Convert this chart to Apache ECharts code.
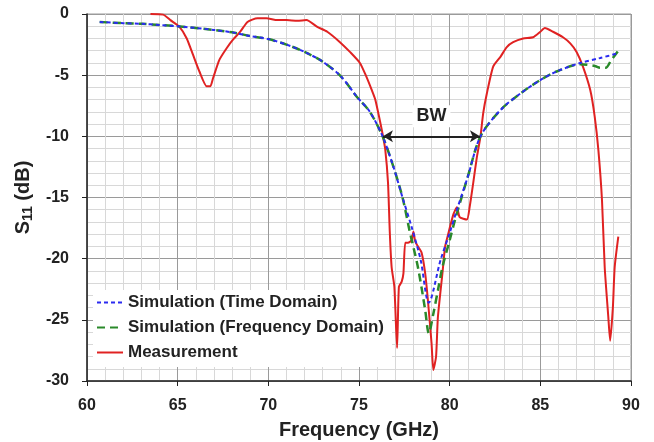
<!DOCTYPE html>
<html>
<head>
<meta charset="utf-8">
<script src="https://cdn.jsdelivr.net/npm/echarts@6/dist/echarts.min.js"></script>
<style>
  html, body { margin: 0; padding: 0; background: #fff; }
  #main { width: 654px; height: 442px; }
</style>
</head>
<body>
<div id="main"></div>
<script>
// simulation, time domain
var tdFreq = [60.7, 62, 63, 64, 65, 67, 68, 69, 70, 71, 72, 73, 74, 74.9, 75.6, 76.3, 76.9, 77.4, 77.9, 78.4, 78.85, 79.5, 80.0, 80.4, 81.0, 81.7, 82.8, 83.9, 85.0, 85.9, 87.2, 88.3, 89.3];
var tdS11 = [-0.65, -0.75, -0.8, -0.9, -1.0, -1.3, -1.5, -1.8, -2.05, -2.5, -3.1, -3.9, -5.1, -6.8, -8.0, -10.0, -12.5, -15.0, -17.4, -20.1, -23.6, -20.1, -17.9, -16.0, -13.3, -10.0, -7.85, -6.5, -5.4, -4.7, -4.0, -3.6, -3.2];

// simulation, frequency domain
var fdFreq = [60.7, 62, 63, 64, 65, 67, 68, 69, 70, 71, 72, 73, 74, 74.9, 75.6, 76.3, 76.9, 77.4, 77.8, 78.25, 78.65, 78.85, 79.1, 79.35, 79.6, 80.0, 80.3, 81.0, 81.7, 82.8, 83.9, 85.0, 85.9, 87.2, 88.0, 88.3, 88.6, 88.9, 89.3];
var fdS11 = [-0.65, -0.75, -0.8, -0.9, -1.0, -1.3, -1.5, -1.8, -2.05, -2.5, -3.1, -3.9, -5.1, -6.8, -8.0, -10.0, -12.5, -15.0, -17.8, -20.7, -24.2, -26.1, -24.5, -22.6, -20.7, -18.5, -16.8, -13.3, -10.0, -7.85, -6.5, -5.4, -4.7, -4.1, -4.25, -4.4, -4.4, -3.8, -3.0];

// measurement
var measFreq = [63.5, 64.2, 64.6, 65.1, 65.5, 65.85, 66.2, 66.6, 66.8, 66.95, 67.3, 67.7, 68.05, 68.45, 68.85, 69.4, 69.9, 70.5, 71.0, 71.6, 72.1, 72.7, 73.25, 73.95, 74.5, 75.05, 75.4, 75.7, 75.9, 76.15, 76.3, 76.45, 76.6, 76.7, 76.8, 76.95, 77.1, 77.2, 77.35, 77.45, 77.55, 77.7, 77.9, 78.0, 78.1, 78.25, 78.45, 78.65, 78.8, 79.0, 79.1, 79.25, 79.35, 79.6, 79.75, 79.9, 80.2, 80.4, 80.55, 80.95, 81.1, 81.3, 81.5, 81.7, 81.85, 82.05, 82.4, 82.8, 83.15, 83.5, 84.05, 84.6, 85.0, 85.25, 85.7, 86.25, 86.65, 87.0, 87.35, 87.75, 88.0, 88.2, 88.4, 88.55, 88.75, 88.85, 89.0, 89.1, 89.3];
var measS11 = [0, -0.05, -0.5, -1.05, -2.0, -3.35, -4.7, -5.9, -5.9, -5.25, -3.75, -2.8, -2.1, -1.45, -0.65, -0.35, -0.35, -0.5, -0.5, -0.55, -0.5, -1.05, -1.45, -2.3, -3.1, -4.0, -5.1, -6.2, -7.0, -8.7, -9.8, -11.1, -13.8, -17.9, -20.7, -22.3, -27.3, -22.3, -21.9, -21.2, -18.7, -18.7, -18.5, -17.8, -18.6, -19.0, -19.5, -21.2, -23.4, -26.9, -29.1, -28.0, -24.8, -21.2, -19.0, -18.1, -16.4, -15.8, -16.6, -16.8, -15.8, -13.8, -11.7, -10.0, -8.1, -6.5, -4.3, -3.5, -2.7, -2.3, -2.0, -1.9, -1.45, -1.15, -1.45, -1.9, -2.4, -3.1, -4.3, -6.2, -8.4, -11.1, -15.2, -20.7, -24.8, -26.7, -24.0, -20.7, -18.2];

// bandwidth marker at -10 dB
var bwFrom = 76.32;
var bwTo = 81.67;
var bwLevel = -10;

function pairs(xs, ys) {
    return xs.map(function (x, i) { return [x, ys[i]]; });
}

var chartDom = document.getElementById('main');
var myChart = echarts.init(chartDom);
var option;

var font = 'Liberation Sans, Arial, sans-serif';

option = {
    animation: false,
    textStyle: { fontFamily: font },
    grid: {
        left: 87, right: 23, top: 14, bottom: 61,
        outerBoundsMode: 'none',
        show: true, borderColor: '#9a9a9a', borderWidth: 1
    },
    legend: {
        orient: 'vertical',
        left: 93, top: 290,
        itemWidth: 26, itemHeight: 14, itemGap: 8,
        padding: [4, 8, 6, 3],
        backgroundColor: '#fff',
        itemStyle: { opacity: 0 },
        textStyle: { fontFamily: font, fontWeight: 'bold', fontSize: 17, color: '#222' },
        data: ['Simulation (Time Domain)', 'Simulation (Frequency Domain)', 'Measurement']
    },
    xAxis: {
        type: 'value',
        min: 60, max: 90, interval: 5,
        name: 'Frequency (GHz)',
        nameLocation: 'middle',
        nameGap: 39,
        nameTextStyle: { fontFamily: font, fontWeight: 'bold', fontSize: 20, color: '#222' },
        axisLine: { onZero: false, lineStyle: { color: '#222', width: 1.5 } },
        axisTick: { show: true, length: 5, lineStyle: { color: '#222' } },
        axisLabel: { margin: 17, fontFamily: font, fontWeight: 'bold', fontSize: 16, color: '#222' },
        splitLine: { show: true, lineStyle: { color: '#9a9a9a', width: 1 } },
        minorTick: { show: false, splitNumber: 5 },
        minorSplitLine: { show: true, lineStyle: { color: '#d8d8d8', width: 1 } }
    },
    yAxis: {
        type: 'value',
        min: -30, max: 0, interval: 5,
        name: '{a|S}{b|11}{a| (dB)}',
        nameLocation: 'middle',
        nameRotate: 90,
        nameGap: 50,
        nameTextStyle: {
            rich: {
                a: { fontFamily: font, fontWeight: 'bold', fontSize: 20, color: '#222' },
                b: { fontFamily: font, fontWeight: 'bold', fontSize: 14, color: '#222', verticalAlign: 'bottom', padding: [9, 0, 0, 0] }
            }
        },
        axisLine: { show: true, onZero: false, lineStyle: { color: '#222', width: 1.5 } },
        axisTick: { show: true, length: 5, lineStyle: { color: '#222' } },
        axisLabel: { margin: 18, fontFamily: font, fontWeight: 'bold', fontSize: 16, color: '#222' },
        splitLine: { show: true, lineStyle: { color: '#9a9a9a', width: 1 } },
        minorTick: { show: false, splitNumber: 5 },
        minorSplitLine: { show: true, lineStyle: { color: '#d8d8d8', width: 1 } }
    },
    series: [
        {
            name: 'Simulation (Time Domain)',
            type: 'line',
            data: pairs(tdFreq, tdS11),
            smooth: 0.3,
            symbol: 'none',
            z: 4,
            color: '#2b2bf0',
            lineStyle: { color: '#2b2bf0', width: 2, type: [4, 3] }
        },
        {
            name: 'Simulation (Frequency Domain)',
            type: 'line',
            data: pairs(fdFreq, fdS11),
            smooth: 0.3,
            symbol: 'none',
            z: 3,
            color: '#2a8a2a',
            lineStyle: { color: '#2a8a2a', width: 2.5, type: [8, 5] }
        },
        {
            name: 'Measurement',
            type: 'line',
            data: pairs(measFreq, measS11),
            smooth: 0.2,
            symbol: 'none',
            z: 2,
            color: '#e02222',
            lineStyle: { color: '#e02222', width: 2 },
            markLine: {
                silent: true,
                symbol: ['arrow', 'arrow'],
                symbolSize: [9, 10],
                lineStyle: { color: '#222', width: 2, type: 'solid' },
                label: {
                    show: true,
                    position: 'middle',
                    formatter: 'BW',
                    distance: 9,
                    fontFamily: font, fontWeight: 'bold', fontSize: 18, color: '#222',
                    backgroundColor: '#fff', padding: [2, 4]
                },
                data: [[{ coord: [bwFrom, bwLevel] }, { coord: [bwTo, bwLevel] }]]
            }
        }
    ]
};

option && myChart.setOption(option);
</script>
</body>
</html>
